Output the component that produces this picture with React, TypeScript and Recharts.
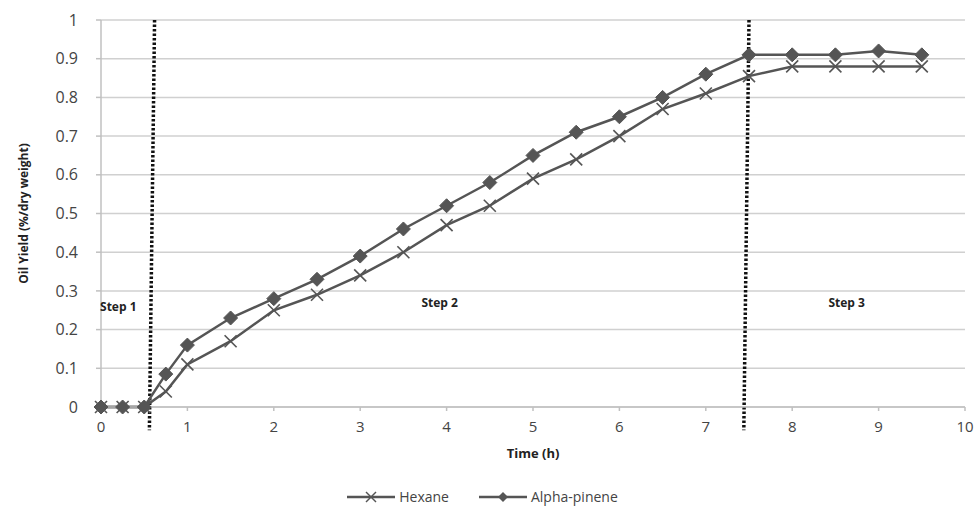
import React from "react";
import { LineChart, Line, XAxis, YAxis, CartesianGrid, ReferenceLine, Legend } from "recharts";

const timeH = [0, 0.25, 0.5, 0.75, 1, 1.5, 2, 2.5, 3, 3.5, 4, 4.5, 5, 5.5, 6, 6.5, 7, 7.5, 8, 8.5, 9, 9.5];
const hexane = [0, 0, 0, 0.04, 0.11, 0.17, 0.25, 0.29, 0.34, 0.4, 0.47, 0.52, 0.59, 0.64, 0.7, 0.77, 0.81, 0.855, 0.88, 0.88, 0.88, 0.88];
const alphaPinene = [0, 0, 0, 0.085, 0.16, 0.23, 0.28, 0.33, 0.39, 0.46, 0.52, 0.58, 0.65, 0.71, 0.75, 0.8, 0.86, 0.91, 0.91, 0.91, 0.92, 0.91];
const xTicks = [0, 1, 2, 3, 4, 5, 6, 7, 8, 9, 10];
const yTicks = [0, 0.1, 0.2, 0.3, 0.4, 0.5, 0.6, 0.7, 0.8, 0.9, 1];
const stepLabels = [
  { text: "Step 1", x: 0.2, y: 0.26 },
  { text: "Step 2", x: 3.92, y: 0.27 },
  { text: "Step 3", x: 8.63, y: 0.27 },
];

const data = timeH.map((t, i) => ({ t, hexane: hexane[i], alpha: alphaPinene[i] }));

const LINE = "#555555";
const FONT = "'Open Sans', 'Liberation Sans', sans-serif";

const XMark = (props: any) => {
  const { cx, cy } = props;
  if (cx == null || cy == null) return null;
  const s = 6;
  return (
    <g>
      <line x1={cx - s} y1={cy - s} x2={cx + s} y2={cy + s} stroke={LINE} strokeWidth={1.6} />
      <line x1={cx - s} y1={cy + s} x2={cx + s} y2={cy - s} stroke={LINE} strokeWidth={1.6} />
    </g>
  );
};

const Diamond = (props: any) => {
  const { cx, cy } = props;
  if (cx == null || cy == null) return null;
  const s = 7;
  return <path d={`M${cx},${cy - s}L${cx + s},${cy}L${cx},${cy + s}L${cx - s},${cy}Z`} fill={LINE} stroke={LINE} strokeWidth={1} />;
};

const LegendContent = () => (
  <div style={{ display: "flex", justifyContent: "center", alignItems: "center", fontFamily: FONT, fontSize: 14, color: "#444", paddingLeft: 0 }}>
    <svg width={48} height={14}>
      <line x1={0} y1={7} x2={48} y2={7} stroke={LINE} strokeWidth={2.5} />
      <line x1={19} y1={2} x2={29} y2={12} stroke={LINE} strokeWidth={1.4} />
      <line x1={19} y1={12} x2={29} y2={2} stroke={LINE} strokeWidth={1.4} />
    </svg>
    <span style={{ marginLeft: 4, marginRight: 30 }}>Hexane</span>
    <svg width={48} height={14}>
      <line x1={0} y1={7} x2={48} y2={7} stroke={LINE} strokeWidth={2.5} />
      <path d="M24,2L29,7L24,12L19,7Z" fill={LINE} />
    </svg>
    <span style={{ marginLeft: 4 }}>Alpha-pinene</span>
  </div>
);

export default function App() {
  return (
    <div style={{ position: "fixed", left: 0, top: 0, width: 979, height: 517, background: "#fff" }}>
      <LineChart width={979} height={517} data={data} margin={{ top: 20, right: 14, bottom: 20, left: 0 }}>
        <CartesianGrid vertical={false} stroke="#d0d0d0" strokeWidth={1.5} />
        <XAxis
          dataKey="t"
          type="number"
          domain={[0, 10]}
          ticks={xTicks}
          allowDecimals={false}
          stroke="#c0c0c0"
          strokeWidth={1.5}
          tickSize={4}
          tickMargin={10}
          tick={{ fill: "#444", fontSize: 15, fontFamily: FONT }}
          height={60}
          label={{ value: "Time (h)", position: "insideTop", offset: 42, style: { fontWeight: "bold", fontSize: 13, fill: "#222", fontFamily: FONT } }}
        />
        <YAxis
          type="number"
          domain={[0, 1]}
          ticks={yTicks}
          stroke="#c0c0c0"
          strokeWidth={1.5}
          tickSize={5}
          tickMargin={18}
          width={101}
          tick={{ fill: "#444", fontSize: 16, fontFamily: FONT }}
          label={{ value: "Oil Yield (%/dry weight)", angle: -90, position: "insideLeft", offset: 24, style: { textAnchor: "middle", fontWeight: "bold", fontSize: 12, fill: "#222", fontFamily: FONT } }}
        />
        <ReferenceLine
          segment={[{ x: 0.62, y: 1 }, { x: 0.56, y: -0.06 }]}
          stroke="#111"
          strokeWidth={3.5}
          strokeDasharray="2.5 2"
          ifOverflow="visible"
        />
        <ReferenceLine
          segment={[{ x: 7.5, y: 1 }, { x: 7.44, y: -0.06 }]}
          stroke="#111"
          strokeWidth={3.5}
          strokeDasharray="2.5 2"
          ifOverflow="visible"
        />
        {stepLabels.map((s) => (
          <ReferenceLine
            key={s.text}
            segment={[{ x: s.x, y: s.y }, { x: s.x, y: s.y }]}
            stroke="none"
            ifOverflow="visible"
            label={{ value: s.text, position: "center", style: { fontWeight: "bold", fontSize: 12, fill: "#222", fontFamily: FONT } }}
          />
        ))}
        <Line type="linear" dataKey="hexane" name="Hexane" stroke={LINE} strokeWidth={2.5} dot={<XMark />} isAnimationActive={false} />
        <Line type="linear" dataKey="alpha" name="Alpha-pinene" stroke={LINE} strokeWidth={2.5} dot={<Diamond />} isAnimationActive={false} />
        <Legend verticalAlign="bottom" height={30} wrapperStyle={{ bottom: 0 }} content={<LegendContent />} />
      </LineChart>
    </div>
  );
}
